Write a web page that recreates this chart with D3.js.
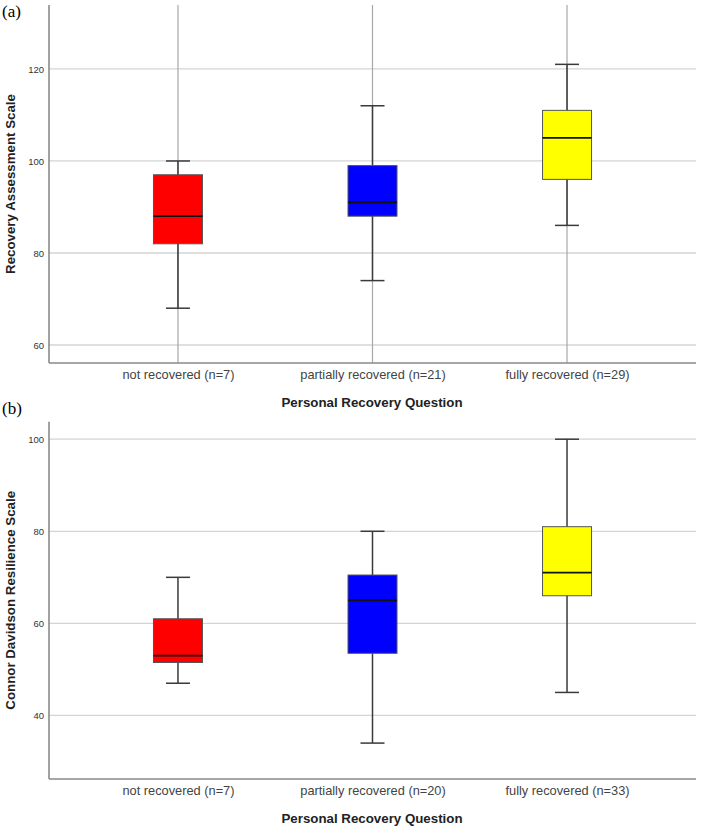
<!DOCTYPE html>
<html><head><meta charset="utf-8">
<script src="https://cdn.jsdelivr.net/npm/d3@7"></script>
<style>body{margin:0;background:#fff}svg{display:block}</style>
</head><body>
<svg id="c" width="701" height="831"></svg>
<script>
const categoriesA = ["not recovered (n=7)", "partially recovered (n=21)", "fully recovered (n=29)"];
const categoriesB = ["not recovered (n=7)", "partially recovered (n=20)", "fully recovered (n=33)"];
const colors = ["#ff0000", "#0000ff", "#ffff00"];
// [lower whisker, Q1, median, Q3, upper whisker]
const statsA = [[68, 82, 88, 97, 100], [74, 88, 91, 99, 112], [86, 96, 105, 111, 121]];
const statsB = [[47, 51.5, 53, 61, 70], [34, 53.5, 65, 70.5, 80], [45, 66, 71, 81, 100]];
const ticksA = [60, 80, 100, 120];
const ticksB = [40, 60, 80, 100];
const yTitleA = "Recovery Assessment Scale";
const yTitleB = "Connor Davidson Resilience Scale";
const xTitle = "Personal Recovery Question";

const svg = d3.select("#c");
const left = 49, right = 696;

function panel(cfg) {
  const g = svg.append("g");
  const x = d3.scalePoint().domain(cfg.cats).range([left, right]).padding(0.663);
  const y = d3.scaleLinear().domain(cfg.domain).range([cfg.bottom, cfg.top]);
  // gridlines
  g.selectAll(".grid").data(cfg.ticks).join("line")
    .attr("x1", left).attr("x2", right)
    .attr("y1", d => y(d)).attr("y2", d => y(d))
    .attr("stroke", "#d4d4d4").attr("stroke-width", 1.3);
  if (cfg.vlines) {
    g.selectAll(".vl").data(cfg.cats).join("line")
      .attr("x1", d => x(d)).attr("x2", d => x(d))
      .attr("y1", cfg.top).attr("y2", cfg.bottom)
      .attr("stroke", "#a8a8a8").attr("stroke-width", 1.2);
  }
  // y axis
  const ya = d3.axisLeft(y).tickValues(cfg.ticks).tickSize(0).tickPadding(5);
  const yg = g.append("g").attr("transform", `translate(${left},0)`).call(ya);
  yg.select(".domain").remove();
  yg.selectAll("text").attr("font-family", "Liberation Sans, Arial, sans-serif")
    .attr("font-size", 9.5).attr("fill", "#333");
  // x axis
  const xa = d3.axisBottom(x).tickSize(0).tickPadding(7);
  const xg = g.append("g").attr("transform", `translate(0,${cfg.bottom})`).call(xa);
  xg.select(".domain").remove();
  xg.selectAll("text").attr("font-family", "Liberation Sans, Arial, sans-serif")
    .attr("font-size", 12.8).attr("fill", "#444");
  // axis lines
  g.append("line").attr("x1", left).attr("x2", left).attr("y1", cfg.top).attr("y2", cfg.bottom)
    .attr("stroke", "#8a8a8a").attr("stroke-width", 1.6);
  g.append("line").attr("x1", left).attr("x2", right).attr("y1", cfg.bottom).attr("y2", cfg.bottom)
    .attr("stroke", "#8a8a8a").attr("stroke-width", 1.6);
  // boxes
  const bw = 49, cw = 24;
  const items = cfg.cats.map((c, i) => ({c, s: cfg.stats[i], col: colors[i]}));
  const bg = g.selectAll(".box").data(items).join("g");
  bg.append("line").attr("x1", d => x(d.c)).attr("x2", d => x(d.c))
    .attr("y1", d => y(d.s[0])).attr("y2", d => y(d.s[4]))
    .attr("stroke", "#3a3a3a").attr("stroke-width", 1.5);
  bg.append("line").attr("x1", d => x(d.c) - cw / 2).attr("x2", d => x(d.c) + cw / 2)
    .attr("y1", d => y(d.s[0])).attr("y2", d => y(d.s[0]))
    .attr("stroke", "#3a3a3a").attr("stroke-width", 1.5);
  bg.append("line").attr("x1", d => x(d.c) - cw / 2).attr("x2", d => x(d.c) + cw / 2)
    .attr("y1", d => y(d.s[4])).attr("y2", d => y(d.s[4]))
    .attr("stroke", "#3a3a3a").attr("stroke-width", 1.5);
  bg.append("rect").attr("x", d => x(d.c) - bw / 2).attr("width", bw)
    .attr("y", d => y(d.s[3])).attr("height", d => y(d.s[1]) - y(d.s[3]))
    .attr("fill", d => d.col).attr("stroke", "#555").attr("stroke-width", 1);
  bg.append("line").attr("x1", d => x(d.c) - bw / 2).attr("x2", d => x(d.c) + bw / 2)
    .attr("y1", d => y(d.s[2])).attr("y2", d => y(d.s[2]))
    .attr("stroke", "#111").attr("stroke-width", 1.8);
  // titles
  g.append("text").attr("x", 372).attr("y", cfg.bottom + 44).attr("text-anchor", "middle")
    .attr("font-family", "Liberation Sans, Arial, sans-serif").attr("font-weight", "bold")
    .attr("font-size", 13.3).attr("fill", "#222").text(xTitle);
  g.append("text").attr("transform", `translate(15,${(cfg.top + cfg.bottom) / 2}) rotate(-90)`)
    .attr("text-anchor", "middle")
    .attr("font-family", "Liberation Sans, Arial, sans-serif").attr("font-weight", "bold")
    .attr("font-size", 13.3).attr("fill", "#222").text(cfg.ytitle);
  g.append("text").attr("x", 2).attr("y", cfg.labelY)
    .attr("font-family", "Liberation Serif, Times New Roman, serif")
    .attr("font-size", 17).attr("fill", "#000").text(cfg.label);
}

panel({cats: categoriesA, stats: statsA, ticks: ticksA, domain: [56.09, 133.9], top: 5, bottom: 363,
  vlines: true, ytitle: yTitleA, label: "(a)", labelY: 17});
panel({cats: categoriesB, stats: statsB, ticks: ticksB, domain: [26.2, 103.8], top: 421.7, bottom: 779,
  vlines: false, ytitle: yTitleB, label: "(b)", labelY: 414});
</script>
</body></html>
